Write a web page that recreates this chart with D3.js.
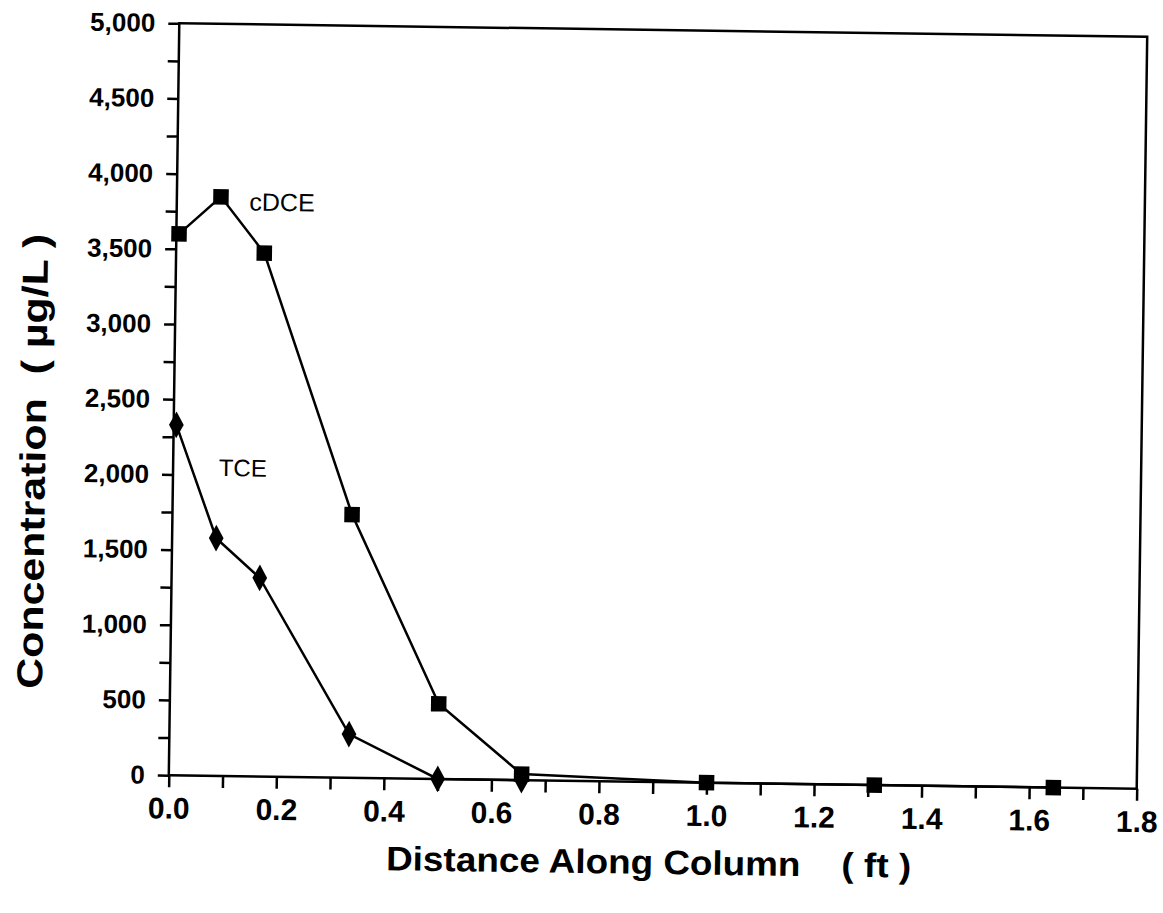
<!DOCTYPE html>
<html>
<head>
<meta charset="utf-8">
<script src="https://cdn.jsdelivr.net/npm/d3@7"></script>
<style>
  body { margin: 0; background: #fff; }
  svg { display: block; }
</style>
</head>
<body>
<svg id="chart"></svg>
<script>
// values
var distTicks = [0, 0.2, 0.4, 0.6, 0.8, 1.0, 1.2, 1.4, 1.6, 1.8];
var concTicks = [0, 500, 1000, 1500, 2000, 2500, 3000, 3500, 4000, 4500, 5000];

var cdceDist = [0.005, 0.082, 0.164, 0.334, 0.5, 0.656, 1.0, 1.312, 1.645];
var cdceConc = [3600, 3850, 3480, 1750, 500, 40, 0, 0, 0];

var tceDist = [0.005, 0.082, 0.164, 0.334, 0.5, 0.656];
var tceConc = [2330, 1580, 1320, 290, 0, 0];

var width = 1163, height = 913;
var pLeft = 174, pRight = 1142, pTop = 30, pBottom = 782;

var svg = d3.select("#chart")
    .attr("width", width)
    .attr("height", height);

// the scan is turned a little, so turn the whole drawing too
var cx = (pLeft + pRight) / 2, cy = (pTop + pBottom) / 2;
var g = svg.append("g")
    .attr("transform", "rotate(0.8," + cx + "," + cy + ")");

var x = d3.scaleLinear().domain([0, 1.8]).range([pLeft, pRight]);
var y = d3.scaleLinear().domain([0, 5000]).range([pBottom, pTop]);

// frame
g.append("rect")
    .attr("x", pLeft)
    .attr("y", pTop)
    .attr("width", pRight - pLeft)
    .attr("height", pBottom - pTop)
    .attr("fill", "none")
    .attr("stroke", "#000")
    .attr("stroke-width", 2.5);

// every tick, labels only on the major ones
var xAxis = d3.axisBottom(x)
    .tickValues(d3.range(0, 19).map(function(i){ return i / 10; }))
    .tickSize(12)
    .tickPadding(10)
    .tickFormat(function(d, i){ return i % 2 == 0 ? d3.format(".1f")(d) : ""; });

var yAxis = d3.axisLeft(y)
    .tickValues(d3.range(0, 21).map(function(i){ return i * 250; }))
    .tickSize(11)
    .tickPadding(13)
    .tickFormat(function(d, i){ return i % 2 == 0 ? d3.format(",")(d) : ""; });

var gx = g.append("g")
    .attr("transform", "translate(0," + pBottom + ")")
    .call(xAxis);
gx.select(".domain").remove();
gx.selectAll("line").attr("stroke", "#000").attr("stroke-width", 2.5);
gx.selectAll("text")
    .attr("fill", "#000")
    .style("font-family", "'Liberation Sans', Arial, sans-serif")
    .style("font-weight", "bold")
    .style("font-size", "30px");

var gy = g.append("g")
    .attr("transform", "translate(" + pLeft + ",0)")
    .call(yAxis);
gy.select(".domain").remove();
gy.selectAll("line").attr("stroke", "#000").attr("stroke-width", 2.5);
gy.selectAll("text")
    .attr("fill", "#000")
    .style("font-family", "'Liberation Sans', Arial, sans-serif")
    .style("font-weight", "bold")
    .style("font-size", "26px");

// lines
var line = d3.line()
    .x(function(d){ return x(d[0]); })
    .y(function(d){ return y(d[1]); });

var cdce = d3.zip(cdceDist, cdceConc);
var tce = d3.zip(tceDist, tceConc);

g.append("path")
    .datum(cdce)
    .attr("d", line)
    .attr("fill", "none")
    .attr("stroke", "#000")
    .attr("stroke-width", 2.5);

g.append("path")
    .datum(tce)
    .attr("d", line)
    .attr("fill", "none")
    .attr("stroke", "#000")
    .attr("stroke-width", 2.5);

var square = d3.symbol().type(d3.symbolSquare).size(240);
var diamond = d3.symbol().type(d3.symbolDiamond).size(170);

g.selectAll(".sq")
    .data(cdce)
    .enter()
    .append("path")
    .attr("class", "sq")
    .attr("d", square)
    .attr("transform", function(d){ return "translate(" + x(d[0]) + "," + y(d[1]) + ")"; })
    .attr("fill", "#000");

g.selectAll(".dm")
    .data(tce)
    .enter()
    .append("path")
    .attr("class", "dm")
    .attr("d", diamond)
    .attr("transform", function(d){ return "translate(" + x(d[0]) + "," + y(d[1]) + ") scale(1.05,1.1)"; })
    .attr("fill", "#000");

// series labels
g.append("text")
    .attr("x", x(0.135))
    .attr("y", y(3820))
    .attr("dy", "0.35em")
    .text("cDCE")
    .style("font-family", "'Liberation Sans', Arial, sans-serif")
    .style("font-size", "25px");

g.append("text")
    .attr("x", x(0.085))
    .attr("y", y(2050))
    .attr("dy", "0.35em")
    .text("TCE")
    .style("font-family", "'Liberation Sans', Arial, sans-serif")
    .style("font-size", "24px");

// axis titles
g.append("text")
    .attr("x", 655)
    .attr("y", 874)
    .attr("text-anchor", "middle")
    .attr("textLength", 525)
    .attr("lengthAdjust", "spacingAndGlyphs")
    .style("white-space", "pre")
    .style("font-family", "'Liberation Sans', Arial, sans-serif")
    .style("font-weight", "bold")
    .style("font-size", "34px")
    .text("Distance Along Column    ( ft )");

g.append("text")
    .attr("transform", "translate(46,470) rotate(-90)")
    .attr("text-anchor", "middle")
    .attr("textLength", 455)
    .attr("lengthAdjust", "spacingAndGlyphs")
    .style("white-space", "pre")
    .style("font-family", "'Liberation Sans', Arial, sans-serif")
    .style("font-weight", "bold")
    .style("font-size", "36px")
    .text("Concentration  ( \u00b5g/L )");
</script>
</body>
</html>
